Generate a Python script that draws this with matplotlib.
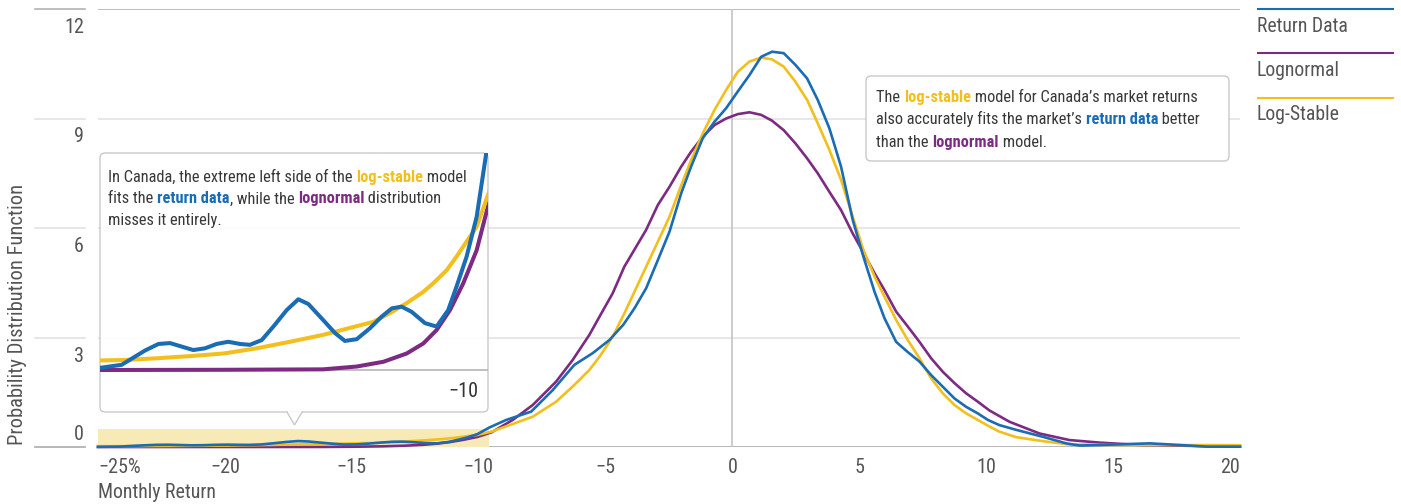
import numpy as np
import matplotlib
matplotlib.use('Agg')
import matplotlib.pyplot as plt
import matplotlib.transforms as mtransforms
from matplotlib.patches import FancyBboxPatch, Polygon, Rectangle

# フォント設定
plt.rcParams['font.family'] = ['Roboto Condensed', 'Roboto', 'DejaVu Sans']
plt.rcParams['axes.unicode_minus'] = True

W, H = 1401, 504

# Return data (monthly return %, pdf)
ret_x = [-25.0, -24.14, -23.21, -22.68, -22.22, -21.30, -20.83, -20.37, -19.91, -19.44,
         -19.05, -18.58, -18.12, -17.59, -17.13, -16.73, -16.14, -15.67, -15.28, -14.81,
         -14.29, -13.82, -13.42, -13.03, -12.63, -12.10, -11.64, -11.18, -10.85, -10.45,
         -10.05, -9.59, -8.92, -7.93, -7.08, -6.23, -5.51, -4.85, -4.30, -3.86,
         -3.40, -2.94, -2.48, -2.02, -1.63, -1.17, -0.71, -0.25, 0.21, 0.67,
         1.13, 1.56, 2.02, 2.48, 2.94, 3.36, 3.82, 4.28, 4.74, 5.14,
         5.60, 5.99, 6.45, 6.91, 7.37, 7.83, 8.29, 8.75, 9.21, 9.67,
         10.07, 10.52, 11.18, 12.23, 13.15, 13.68, 14.47, 16.44, 17.62, 18.67, 20.0]
ret_y = [0.005, 0.012, 0.045, 0.060, 0.062, 0.046, 0.050, 0.060, 0.065, 0.060,
         0.058, 0.069, 0.100, 0.138, 0.163, 0.152, 0.115, 0.085, 0.067, 0.071,
         0.096, 0.123, 0.142, 0.146, 0.134, 0.108, 0.100, 0.138, 0.192, 0.261,
         0.353, 0.53, 0.74, 0.97, 1.56, 2.25, 2.57, 2.93, 3.35, 3.80,
         4.35, 5.12, 5.90, 6.95, 7.68, 8.46, 8.91, 9.28, 9.74, 10.19,
         10.69, 10.83, 10.79, 10.47, 10.10, 9.51, 8.73, 7.68, 6.22, 5.26,
         4.25, 3.53, 2.88, 2.60, 2.34, 1.97, 1.65, 1.33, 1.10, 0.92,
         0.74, 0.60, 0.47, 0.28, 0.10, 0.04, 0.055, 0.10, 0.055, 0.01, 0.01]

# Lognormal fit
logn_x = [-25.0, -20.1, -16.14, -14.81, -13.75, -12.83, -12.17, -11.64, -11.11, -10.58,
          -10.05, -9.5, -8.66, -7.87, -6.95, -6.30, -5.64, -5.24, -4.72, -4.26,
          -3.40, -2.94, -2.48, -2.02, -1.63, -1.17, -0.71, -0.25, 0.21, 0.67,
          1.13, 1.56, 2.02, 2.48, 2.94, 3.36, 3.82, 4.28, 4.74, 5.14,
          5.60, 5.99, 6.45, 6.91, 7.37, 7.83, 8.29, 8.75, 9.21, 9.67,
          10.13, 10.92, 12.10, 13.28, 14.47, 16.04, 20.0]
logn_y = [0.0, 0.0005, 0.0015, 0.008, 0.019, 0.038, 0.061, 0.092, 0.138, 0.20,
          0.276, 0.40, 0.74, 1.15, 1.79, 2.38, 3.07, 3.57, 4.21, 4.94,
          5.95, 6.63, 7.13, 7.68, 8.09, 8.50, 8.82, 9.00, 9.12, 9.17,
          9.10, 8.94, 8.68, 8.32, 7.91, 7.50, 6.99, 6.49, 5.85, 5.35,
          4.76, 4.30, 3.71, 3.30, 2.88, 2.43, 2.06, 1.75, 1.47, 1.24,
          1.00, 0.69, 0.37, 0.19, 0.12, 0.055, 0.01]

# Log-stable fit
lstab_x = [-25.0, -24.07, -22.75, -21.43, -20.1, -18.78, -17.46, -16.14, -15.48, -14.15,
           -13.49, -12.83, -12.17, -11.77, -11.24, -10.85, -10.45, -10.05, -9.5, -8.7,
           -7.87, -6.95, -6.23, -5.64, -5.24, -4.72, -4.26, -3.40, -2.48, -2.09,
           -1.63, -1.17, -0.71, -0.25, 0.21, 0.67, 1.13, 1.56, 2.02, 2.48,
           2.94, 3.36, 3.82, 4.28, 4.74, 5.14, 5.60, 5.99, 6.45, 6.91,
           7.37, 7.83, 8.29, 8.75, 9.21, 9.67, 10.13, 10.52, 11.18, 12.23,
           13.28, 15.38, 20.0]
lstab_y = [0.022, 0.023, 0.027, 0.032, 0.038, 0.050, 0.065, 0.081, 0.091, 0.111,
           0.131, 0.154, 0.180, 0.20, 0.230, 0.261, 0.296, 0.330, 0.42, 0.62,
           0.83, 1.24, 1.70, 2.11, 2.47, 3.02, 3.66, 4.94, 6.31, 7.04,
           7.86, 8.59, 9.23, 9.78, 10.28, 10.56, 10.67, 10.62, 10.42, 10.01,
           9.51, 8.87, 8.14, 7.32, 6.31, 5.44, 4.67, 4.12, 3.48, 2.93,
           2.43, 1.88, 1.47, 1.15, 0.92, 0.74, 0.56, 0.42, 0.27, 0.16,
           0.07, 0.055, 0.05]

series_names = ['Return Data', 'Lognormal', 'Log-Stable']
series_colors = ['#1A6CB4', '#7D2A82', '#F3BF1C']
xticks = [-25, -20, -15, -10, -5, 0, 5, 10, 15, 20]
xtick_labels = ['\u221225%', '\u221220', '\u221215', '\u221210', '\u22125', '0', '5', '10', '15', '20']
yticks = [0, 3, 6, 9, 12]
zoom_xlim = (-25, -9.6)
zoom_ylim = (0, 0.5)

BLUE, PURPLE, YELLOW = series_colors
TXT = '#383838'
TICK = '#555555'

FS_TICK = 14.5
FS_NOTE = 11.8
FS_LEG = 14.2


def fx(px):
    return px / W


def fy(py):
    return 1 - py / H


fig = plt.figure(figsize=(W / 100, H / 100), dpi=100)

# メインの軸
ax = fig.add_axes([fx(98), fy(447), fx(1240) - fx(98), fy(9) - fy(447)])
ax.set_xlim(-25, 20)
ax.set_ylim(0, 12)
ax.set_axis_off()

ytr = ax.get_yaxis_transform()
for v in yticks:
    if v == 0:
        c = '#ababab'
    elif v == 12:
        c = '#b3b3b3'
    else:
        c = '#e3e3e3'
    ax.plot([0, 1], [v, v], transform=ytr, color=c, lw=1.2, zorder=1)
    ax.plot([(35 - 98) / 1142, (85 - 98) / 1142], [v, v], transform=ytr,
            color=c, lw=1.2, clip_on=False)
    off = 7 if v == 0 else -24
    tr = mtransforms.offset_copy(ytr, fig=fig, y=off, units='dots')
    ax.text((84 - 98) / 1142, v, str(v), transform=tr, ha='right', va='baseline',
            fontsize=FS_TICK, color=TICK)

ax.axvline(0, color='#c4c4c4', lw=1.2, zorder=1)

xtr = mtransforms.offset_copy(ax.get_xaxis_transform(), fig=fig, y=-26, units='dots')
for i, (v, lab) in enumerate(zip(xticks, xtick_labels)):
    ha = 'left' if i == 0 else ('right' if i == len(xticks) - 1 else 'center')
    ax.text(v, 0, lab, transform=xtr, ha=ha, va='baseline', fontsize=FS_TICK, color=TICK)

# 拡大範囲のハイライト
ax.add_patch(Rectangle((zoom_xlim[0], zoom_ylim[0]), zoom_xlim[1] - zoom_xlim[0],
                       zoom_ylim[1] - zoom_ylim[0], facecolor='#F8EAB6', edgecolor='none',
                       zorder=1.5))

ax.plot(logn_x, logn_y, color=PURPLE, lw=1.9, zorder=3, clip_on=False)
ax.plot(lstab_x, lstab_y, color=YELLOW, lw=1.9, zorder=3, clip_on=False)
ax.plot(ret_x, ret_y, color=BLUE, lw=1.9, zorder=3, clip_on=False)

fig.text(fx(98), fy(498), 'Monthly Return', ha='left', va='baseline', fontsize=14.3, color=TICK)
fig.text(fx(18), fy(445), 'Probability Distribution Function', rotation=90,
         ha='center', va='bottom', fontsize=14.8, color=TICK)

# 背面オーバーレイ (枠)
back = fig.add_axes([0, 0, 1, 1], zorder=2)
back.set_xlim(0, W)
back.set_ylim(H, 0)
back.set_axis_off()
back.patch.set_visible(False)

back.add_patch(FancyBboxPatch((100, 153), 388, 259, boxstyle='round,pad=0,rounding_size=5',
                              facecolor=(1, 1, 1, 0.88), edgecolor='#c9c9c9', lw=1))
back.add_patch(Polygon([(286.5, 411.2), (294.5, 425), (302.5, 411.2)], closed=False,
                       facecolor='white', edgecolor='#c9c9c9', lw=1))
back.add_patch(FancyBboxPatch((866, 76), 363, 85, boxstyle='round,pad=0,rounding_size=5',
                              facecolor='white', edgecolor='#c9c9c9', lw=1))

# 凡例
for i, (name, col) in enumerate(zip(series_names, series_colors)):
    ly = 9 + i * 44.3
    back.plot([1257, 1394], [ly, ly], color=col, lw=1.5, solid_capstyle='butt')
    back.text(1257, ly + 22.5, name, ha='left', va='baseline', fontsize=FS_LEG, color=TICK)

# 拡大図
ins_bottom = 370 + 0.01 * 434
ins = fig.add_axes([fx(100), fy(ins_bottom), fx(488) - fx(100), fy(153) - fy(ins_bottom)], zorder=3)
ins.set_xlim(*zoom_xlim)
ins.set_ylim(-0.01, zoom_ylim[1])
ins.set_axis_off()
ins.patch.set_visible(False)
ins.axhline(0, color='#b5b5b5', lw=1.2)
ins.plot(logn_x, logn_y, color=PURPLE, lw=2.9)
ins.plot(lstab_x, lstab_y, color=YELLOW, lw=2.9)
ins.plot(ret_x, ret_y, color=BLUE, lw=2.9)
itr = mtransforms.offset_copy(ins.get_xaxis_transform(), fig=fig, y=-23, units='dots')
ins.text(-10, 0, '\u221210', transform=itr, ha='right', va='baseline',
         fontsize=FS_TICK, color='#333333')

# 前面オーバーレイ (文字)
front = fig.add_axes([0, 0, 1, 1], zorder=4)
front.set_xlim(0, W)
front.set_ylim(H, 0)
front.set_axis_off()
front.patch.set_visible(False)


def rich_line(x, y, pieces, size=FS_NOTE):
    t = None
    for s, col, bold in pieces:
        kw = dict(color=col, fontsize=size, fontweight='bold' if bold else 'normal')
        if t is None:
            t = front.text(x, y, s, ha='left', va='baseline', **kw)
        else:
            t = front.annotate(s, xy=(1, 0), xycoords=t, va='bottom', ha='left', **kw)


left_lines = [
    [('In Canada, the extreme left side of the ', TXT, False), ('log-stable', YELLOW, True),
     (' model', TXT, False)],
    [('fits the ', TXT, False), ('return data', BLUE, True), (', while the ', TXT, False),
     ('lognormal', PURPLE, True), (' distribution', TXT, False)],
    [('misses it entirely.', TXT, False)],
]
right_lines = [
    [('The ', TXT, False), ('log-stable', YELLOW, True),
     (' model for Canada\u2019s market returns', TXT, False)],
    [('also accurately fits the market\u2019s ', TXT, False), ('return data', BLUE, True),
     (' better', TXT, False)],
    [('than the ', TXT, False), ('lognormal', PURPLE, True), (' model.', TXT, False)],
]
for i, line in enumerate(left_lines):
    rich_line(108, 181.7 + i * 21.7, line)
for i, line in enumerate(right_lines):
    rich_line(876, 101.7 + i * 22.7, line)

fig.savefig('out.png', dpi=100)
